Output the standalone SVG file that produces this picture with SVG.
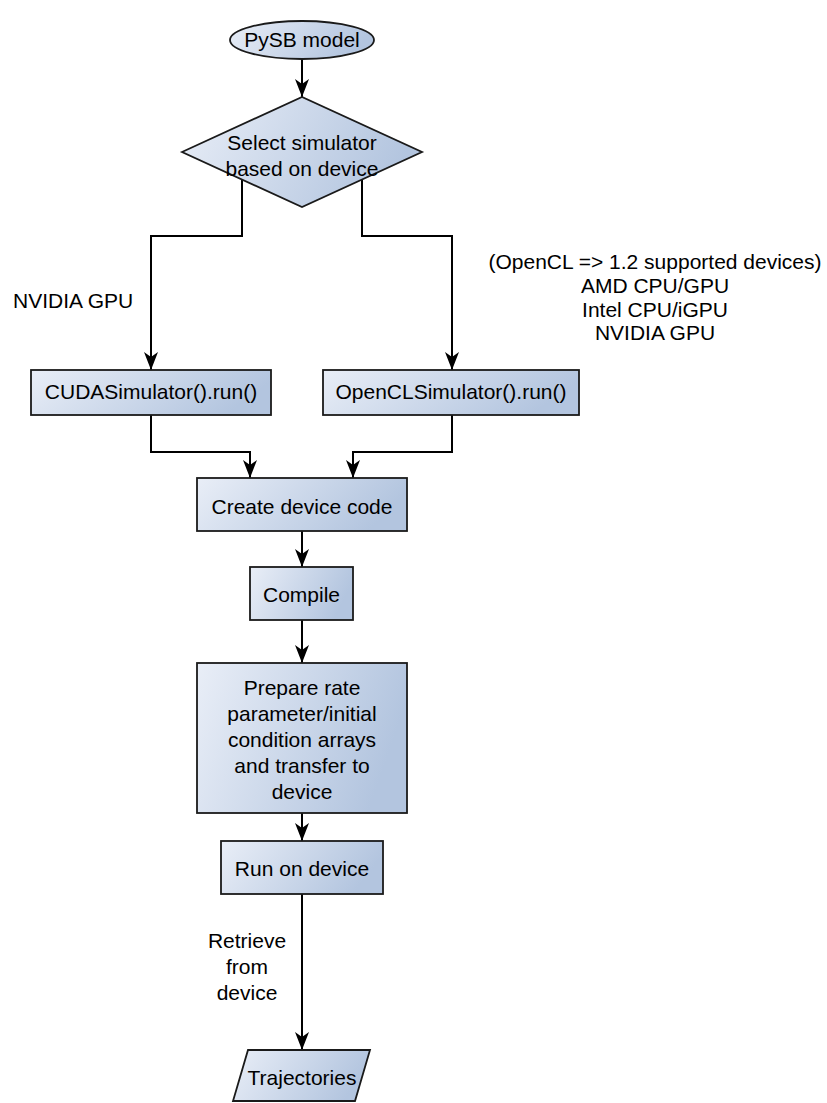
<svg xmlns="http://www.w3.org/2000/svg" width="827" height="1103" viewBox="0 0 827 1103">
<defs>
<linearGradient id="g" x1="0" y1="0" x2="1" y2="0.25">
<stop offset="0" stop-color="#e9eef7"/>
<stop offset="1" stop-color="#b3c5df"/>
</linearGradient>
<marker id="arr" markerUnits="userSpaceOnUse" markerWidth="18" markerHeight="14" viewBox="0 0 18 14" refX="18" refY="7" orient="auto">
<path d="M0,0 L18,7 L0,14 L5,7 z" fill="#000"/>
</marker>
</defs>
<style>
.n{fill:url(#g);stroke:#1a1a1a;stroke-width:1.8}
.t{font-family:"Liberation Sans",Arial,sans-serif;font-size:21px;fill:#000;text-anchor:middle}
.l{font-family:"Liberation Sans",Arial,sans-serif;font-size:21px;fill:#000}
.c{fill:none;stroke:#000;stroke-width:2;marker-end:url(#arr)}
</style>
<rect width="827" height="1103" fill="#fff"/>
<g id="connectors">
<path class="c" d="M302,58 V97"/>
<path class="c" d="M242,180 V236 H151 V370"/>
<path class="c" d="M362,180 V236 H452 V370"/>
<path class="c" d="M151,415 V452 H250 V478"/>
<path class="c" d="M452,415 V452 H353 V478"/>
<path class="c" d="M302,531 V567"/>
<path class="c" d="M302,620 V663"/>
<path class="c" d="M302,813 V841"/>
<path class="c" d="M302,894 V1050"/>
</g>
<g id="pysb">
<ellipse class="n" cx="302" cy="40" rx="72" ry="19"/>
<text class="t" x="302" y="47">PySB model</text>
</g>
<g id="select">
<polygon class="n" points="182,152 302,97 422,152 302,207"/>
<text class="t" x="302" y="150">Select simulator</text>
<text class="t" x="302" y="176">based on device</text>
</g>
<g id="cuda">
<rect class="n" x="31" y="370" width="240" height="45"/>
<text class="t" x="151" y="399">CUDASimulator().run()</text>
</g>
<g id="opencl">
<rect class="n" x="323" y="370" width="256" height="45"/>
<text class="t" x="451" y="399">OpenCLSimulator().run()</text>
</g>
<g id="create">
<rect class="n" x="197" y="478" width="210" height="53"/>
<text class="t" x="302" y="514">Create device code</text>
</g>
<g id="compile">
<rect class="n" x="250" y="567" width="103" height="53"/>
<text class="t" x="301.5" y="602">Compile</text>
</g>
<g id="prepare">
<rect class="n" x="197" y="663" width="210" height="150"/>
<text class="t" x="302" y="695">Prepare rate</text>
<text class="t" x="302" y="721">parameter/initial</text>
<text class="t" x="302" y="747">condition arrays</text>
<text class="t" x="302" y="773">and transfer to</text>
<text class="t" x="302" y="799">device</text>
</g>
<g id="run">
<rect class="n" x="221" y="841" width="162" height="53"/>
<text class="t" x="302" y="876">Run on device</text>
</g>
<g id="trajectories">
<polygon class="n" points="248,1050 370,1050 355,1101 233,1101"/>
<text class="t" x="302" y="1085">Trajectories</text>
</g>
<g id="labels">
<text class="l" x="13" y="308">NVIDIA GPU</text>
<text class="t" x="655" y="269">(OpenCL =&gt; 1.2 supported devices)</text>
<text class="t" x="655" y="293">AMD CPU/GPU</text>
<text class="t" x="655" y="317">Intel CPU/iGPU</text>
<text class="t" x="655" y="340">NVIDIA GPU</text>
<text class="t" x="247" y="948">Retrieve</text>
<text class="t" x="247" y="974">from</text>
<text class="t" x="247" y="1000">device</text>
</g>
</svg>
